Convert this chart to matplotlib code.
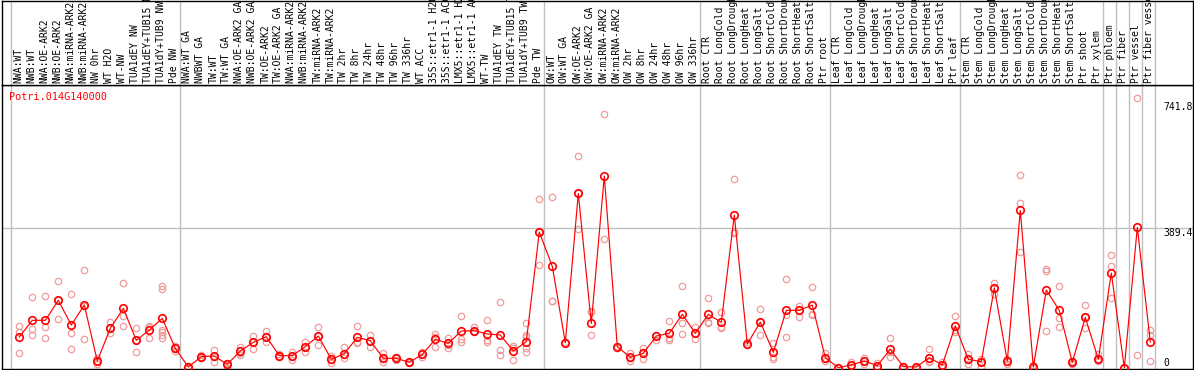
import matplotlib
matplotlib.use("Agg")
import matplotlib.pyplot as plt
import matplotlib.transforms as mtransforms

gene = "Potri.014G140000"

# sample labels, in the order they appear along x
labels = [
    "NWA:WT", "NWB:WT", "NWA:OE-ARK2", "NWB:OE-ARK2", "NWA:miRNA-ARK2", "NWB:miRNA-ARK2",
    "NW 0hr", "WT H2O", "WT-NW", "TUA1dEY NW", "TUA1dEY+TUB15 NW", "TUA1dY+TUB9 NW", "Pde NW",
    "NWA:WT GA", "NWBWT GA", "TW:WT", "TW:WT GA", "NWA:OE-ARK2 GA", "NWB:OE-ARK2 GA",
    "TW:OE-ARK2", "TW:OE-ARK2 GA", "NWA:miRNA-ARK2 GA", "NWB:miRNA-ARK2 GA", "TW:miRNA-ARK2",
    "TW:miRNA-ARK2", "TW 2hr", "TW 8hr", "TW 24hr", "TW 48hr", "TW 96hr", "TW 336hr", "WT ACC",
    "35S::etr1-1 H2O", "35S::etr1-1 ACC", "LMX5::etr1-1 H2O", "LMX5::etr1-1 ACC", "WT-TW",
    "TUA1dEY TW", "TUA1dEY+TUB15 TW", "TUA1dY+TUB9 TW", "Pde TW",
    "OW:WT", "OW:WT GA", "OW:OE-ARK2", "OW:OE-ARK2 GA", "OW:miRNA-ARK2", "OW:miRNA-ARK2",
    "OW 2hr", "OW 8hr", "OW 24hr", "OW 48hr", "OW 96hr", "OW 336hr",
    "Root CTR", "Root LongCold", "Root LongDrought", "Root LongHeat", "Root LongSalt",
    "Root ShortCold", "Root ShortDrought", "Root ShortHeat", "Root ShortSalt", "Ptr root",
    "Leaf CTR", "Leaf LongCold", "Leaf LongDrought", "Leaf LongHeat", "Leaf LongSalt",
    "Leaf ShortCold", "Leaf ShortDrought", "Leaf ShortHeat", "Leaf ShortSalt", "Ptr leaf",
    "Stem CTR", "Stem LongCold", "Stem LongDrought", "Stem LongHeat", "Stem LongSalt",
    "Stem ShortCold", "Stem ShortDrought", "Stem ShortHeat", "Stem ShortSalt", "Ptr shoot",
    "Ptr xylem", "Ptr phloem", "Ptr fiber", "Ptr vessel", "Ptr fiber vessel",
]

# index where each experiment group starts (gray separators)
group_starts = [0, 13, 41, 53, 63, 73, 84, 85, 86, 87, 88]

# mean expression per sample
means = [
    86.4, 132.9, 132.9, 188.6, 119.8, 175.6, 19.5, 110.6, 166.3, 77.1, 105.9, 138.4, 54.8,
    2.8, 31.6, 33.4, 10.2, 47.4, 71.5, 87.3, 34.4, 34.4, 59.5, 89.2, 24.2, 39.9, 85.5, 76.2,
    26.9, 26.9, 15.8, 38.1, 79.9, 68.7, 103.1, 104.0, 94.8, 92.0, 47.4, 73.4, 379.0,
    283.3, 70.6, 486.8, 124.5, 535.1, 59.5, 29.7, 40.9, 89.2, 96.6, 149.6, 96.6,
    149.6, 127.3, 426.4, 66.9, 128.2, 43.7, 160.7, 160.7, 175.6, 28.8,
    0.9, 8.4, 19.5, 6.5, 52.0, 3.7, 2.8, 28.8, 8.4, 117.1,
    24.2, 17.7, 223.0, 19.5, 439.4, 2.8, 217.4, 160.7, 15.8, 141.2, 24.2,
    264.8, 0.5, 392.0, 72.5,
]

# individual replicates per sample
replicates = [
    [116.1, 99.4, 41.8], [197.9, 108.7, 92.0], [199.7, 113.3, 82.7], [241.5, 188.6, 135.6],
    [205.3, 96.6, 52.0], [272.2, 173.7, 79.9], [26.9, 19.5, 12.1], [127.3, 110.6, 96.6],
    [236.0, 145.9, 118.0], [110.6, 77.1, 43.7], [118.0, 115.2, 82.7],
    [228.5, 220.2, 105.9, 99.4, 92.0, 84.5], [62.2, 54.8, 47.4],
    [2.8, 0.9, 4.6], [36.2, 31.6, 26.9], [50.2, 31.6, 17.7], [13.0, 8.4, 0.9],
    [57.6, 40.9, 36.2], [89.2, 73.4, 53.0], [103.1, 87.3, 73.4], [38.1, 34.4, 31.6],
    [45.5, 34.4, 22.3], [73.4, 59.5, 45.5], [115.2, 89.2, 64.1], [34.4, 22.3, 13.0],
    [58.5, 36.2, 26.9], [117.1, 71.5, 68.7], [92.0, 76.2, 59.5], [40.9, 26.9, 15.8],
    [31.6, 22.3, 26.9], [17.7, 15.8, 13.0], [45.5, 38.1, 31.6], [93.8, 87.3, 59.5],
    [82.7, 64.1, 54.8], [144.9, 80.8, 73.4], [113.3, 104.0, 101.3], [132.9, 78.0, 71.5],
    [183.0, 50.2, 36.2], [61.3, 54.8, 21.4], [124.5, 92.0, 87.3, 54.8, 45.5],
    [470.1, 379.0, 286.1],
    [475.7, 187.7, 186.7], [73.4, 68.7], [590.9, 486.8, 386.5], [158.9, 155.0, 92.0],
    [707.0, 358.6], [62.2, 56.7], [42.7, 28.8, 19.5], [54.8, 45.5, 25.1], [92.0, 78.0],
    [131.0, 82.7, 78.0], [228.5, 125.4, 93.8], [114.3, 96.6, 79.9],
    [196.0, 129.1, 126.3], [155.1, 115.2, 110.6], [525.8, 380.0, 375.3], [71.5, 64.1],
    [164.4, 128.2, 92.0], [68.7, 31.6, 25.1], [248.0, 147.7, 86.4], [173.7, 160.7, 143.1],
    [224.8, 149.6, 147.7], [42.7, 28.8, 20.4],
    [0.9, 2.8], [15.8, 8.4, 3.7], [28.8, 19.5, 10.2], [13.0, 3.7], [82.7, 45.5, 31.6],
    [6.5, 0.9], [2.8, 0.9], [52.0, 19.5, 15.8], [15.8, 8.4, 2.8], [144.9, 105.9, 101.3],
    [39.9, 22.3, 10.2], [24.2, 17.7, 2.8], [236.9, 223.0, 205.3], [24.2, 17.7, 10.2],
    [537.9, 458.9, 322.4], [8.4, 0.9], [275.9, 270.3, 103.1], [228.5, 138.4, 113.3],
    [19.5, 15.8, 10.2], [175.6, 141.2, 110.6], [38.1, 24.2, 19.5],
    [314.0, 284.3, 194.2], [0.0], [751.6, 35.3], [105.9, 92.0, 19.5],
]

ytick_values = [0, 389.4, 741.8]

W, H = 1194, 370
fig = plt.figure(figsize=(W / 100, H / 100), dpi=100)
mono = "DejaVu Sans Mono"

# pixel layout: plot box 1.5..1193 x 85..369
left, right = 1.5, 1193
plot_top, plot_bot = 85, 369
ax = fig.add_axes([left / W, (H - plot_bot) / H, (right - left) / W, (plot_bot - plot_top) / H])
ax_top = fig.add_axes([left / W, (H - plot_top) / H, (right - left) / W, (plot_top - 0.5) / H])

# x index -> pixel 19.3 + 13 * i
xmin = (left - 19.3) / 13
xmax = (right - 19.3) / 13
for a in (ax, ax_top):
    a.set_xlim(xmin, xmax)
    a.set_xticks([])
    a.set_yticks([])
    for s in a.spines.values():
        s.set_color("black")
        s.set_linewidth(1.0)
    for g in group_starts:
        a.axvline(g - 0.62, color="#c0c0c0", lw=1.0, zorder=0)

ax.set_ylim(-2.8, 789)
ax_top.set_ylim(0, 1)

ax.axhline(ytick_values[1], color="#c0c0c0", lw=1.0, zorder=0)

xs = list(range(len(means)))

# replicates
for i, reps in enumerate(replicates):
    ax.plot([i] * len(reps), reps, linestyle="none", marker="o", markersize=4.6,
            markerfacecolor="none", markeredgecolor="#f09a9a", markeredgewidth=0.9, zorder=2)

# mean line
ax.plot(xs, means, color="#ff0000", lw=0.85, marker="o", markersize=5.4,
        markerfacecolor="none", markeredgecolor="#ff0000", markeredgewidth=1.2, zorder=3)

# sample labels
for i, lab in enumerate(labels):
    ax_top.text(i - 0.08, 0.025, lab, rotation=90, ha="center", va="bottom",
                fontsize=7, family=mono, color="black")

# gene name
ax.text(0.0065, 0.957, gene, transform=ax.transAxes, ha="left", va="center",
        fontsize=7.3, family=mono, color="#ff0000")

# right side value labels
trans = mtransforms.blended_transform_factory(ax.transAxes, ax.transData)
for v in ytick_values:
    txt = "0" if v == 0 else f"{v}"
    ax.text(0.9748, v, txt, transform=trans, ha="left",
            va="bottom" if v == 0 else "top", fontsize=7, family=mono, color="black")

fig.savefig("out.png", dpi=100)
